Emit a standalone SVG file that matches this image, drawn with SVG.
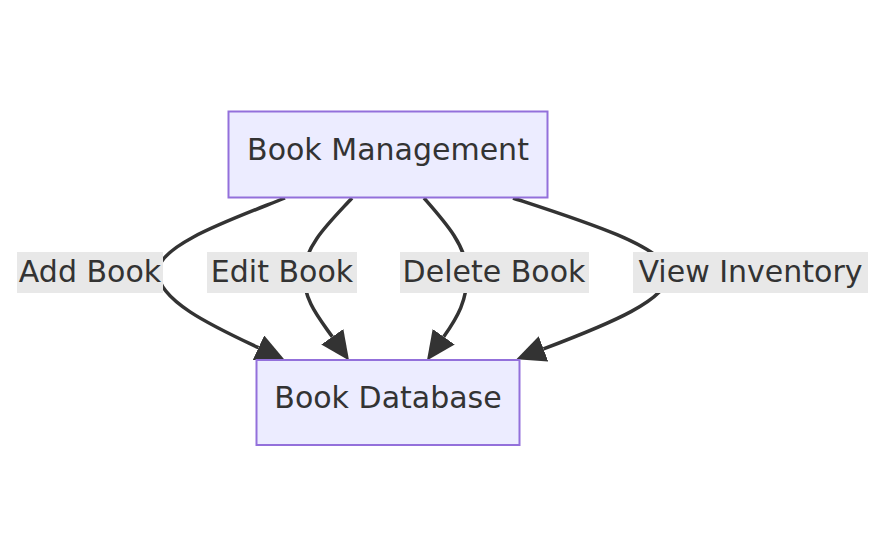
<svg xmlns="http://www.w3.org/2000/svg" width="885" height="557" viewBox="0 0 885 557">
<style>
.node rect{fill:#ECECFF;stroke:#9370DB;stroke-width:2}
.node text{font-family:"DejaVu Sans",sans-serif;font-size:30px;fill:#333333;text-anchor:middle}
.edge{fill:none;stroke:#333333;stroke-width:3.5;marker-end:url(#arrow)}
.lbl rect{fill:#e8e8e8}
.lbl text{font-family:"DejaVu Sans",sans-serif;font-size:30px;fill:#333333;text-anchor:middle}
</style>
<defs>
<marker id="arrow" viewBox="0 0 10 10" refX="0" refY="5" markerUnits="userSpaceOnUse" markerWidth="29" markerHeight="27" preserveAspectRatio="none" orient="auto">
<path d="M0,0 L10,5 L0,10 z" fill="#333333"/>
</marker>
</defs>
<rect width="885" height="557" fill="#ffffff"/>
<g id="connectors">
<path class="edge" d="M285,198 C230,220 158,245 158,272 C158,300 210,325 258.5,347.7"/>
<path class="edge" d="M352,198 C330,222 305,245 304,272 C303,300 319,318 332.3,336.8"/>
<path class="edge" d="M424,198 C445,222 466,245 467,272 C468,300 457,318 443.7,336.8"/>
<path class="edge" d="M513,198 C580,220 660,245 668,270 C676,298 604,326 543.5,348.9"/>
</g>
<g id="edge-labels">
<g class="lbl" id="label-add"><rect x="17" y="252" width="146" height="41"/><text x="90" y="282">Add Book</text></g>
<g class="lbl" id="label-edit"><rect x="207" y="252" width="150" height="41"/><text x="282" y="282">Edit Book</text></g>
<g class="lbl" id="label-delete"><rect x="400" y="252" width="189" height="41"/><text x="494" y="282">Delete Book</text></g>
<g class="lbl" id="label-view"><rect x="633" y="252" width="235" height="41"/><text x="750.5" y="282">View Inventory</text></g>
</g>
<g class="node" id="book-management"><rect x="228.5" y="111.5" width="319" height="86"/><text x="388" y="160">Book Management</text></g>
<g class="node" id="book-database"><rect x="256.5" y="360" width="263" height="85"/><text x="388" y="408">Book Database</text></g>
</svg>
